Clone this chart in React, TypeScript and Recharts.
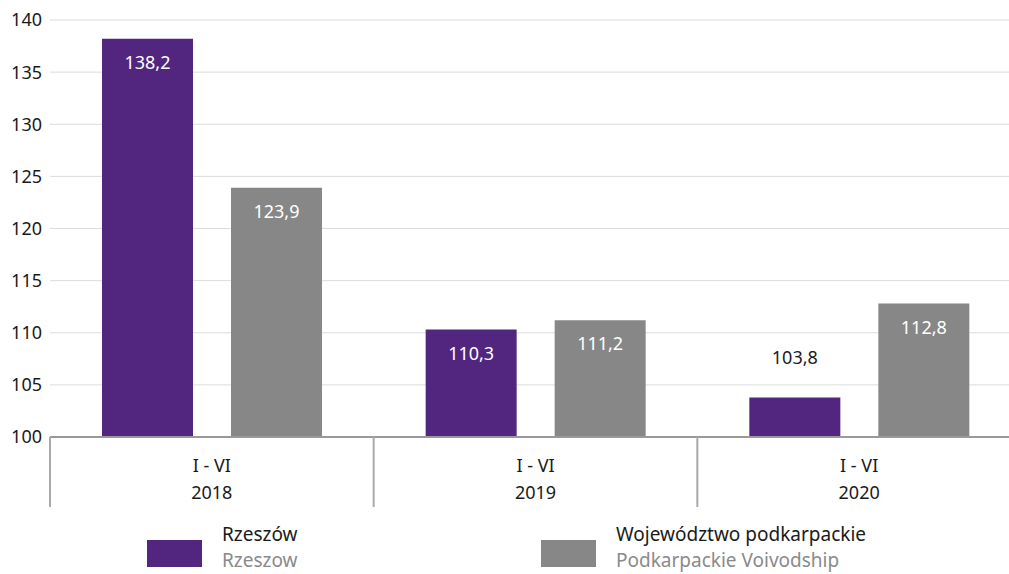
import React from "react";
import { BarChart, Bar, XAxis, YAxis, CartesianGrid, LabelList } from "recharts";

const years = ["2018", "2019", "2020"];
const period = "I - VI";
const rzeszow = [138.2, 110.3, 103.8];
const podkarpackie = [123.9, 111.2, 112.8];
const yTicks = [100, 105, 110, 115, 120, 125, 130, 135, 140];

const series = [
  { key: "rzeszow", name: "Rzeszów", nameEn: "Rzeszow", color: "#52267f" },
  { key: "podkarpackie", name: "Województwo podkarpackie", nameEn: "Podkarpackie Voivodship", color: "#878787" },
];

const data = years.map((y, i) => ({
  year: y,
  rzeszow: rzeszow[i],
  podkarpackie: podkarpackie[i],
}));

const FONT = "'Noto Sans', 'Open Sans', sans-serif";
const CHART_W = 1021;
const CHART_H = 574;
const Y_W = 50;

const fmt = (v: number) => v.toFixed(1).replace(".", ",");

const CategoryTick = (props: any) => {
  const { x, y, payload } = props;
  const band = (CHART_W - Y_W) / years.length;
  const left = x - band / 2;
  return (
    <g>
      <line x1={left} y1={y} x2={left} y2={y + 70} stroke="#a9a9a9" strokeWidth={2} />
      <text x={x} y={y + 35} textAnchor="middle" fontSize={18} fill="#1a1a1a" fontFamily={FONT}>
        {period}
      </text>
      <text x={x} y={y + 62} textAnchor="middle" fontSize={18} fill="#1a1a1a" fontFamily={FONT}>
        {payload.value}
      </text>
    </g>
  );
};

const BarLabel = (props: any) => {
  const { x, y, width, height, value } = props;
  const inside = height > 50;
  return (
    <text
      x={x + width / 2}
      y={inside ? y + 30 : y - 33}
      textAnchor="middle"
      fontSize={18}
      fill={inside ? "#ffffff" : "#1a1a1a"}
      fontFamily={FONT}
    >
      {fmt(value)}
    </text>
  );
};

export default function App() {
  return (
    <div
      style={{
        position: "absolute",
        left: 0,
        top: 0,
        width: 1009,
        height: 574,
        overflow: "hidden",
        background: "#fff",
        fontFamily: FONT,
      }}
    >
      <BarChart
        width={CHART_W}
        height={CHART_H}
        data={data}
        margin={{ top: 20, right: 0, bottom: 67, left: 0 }}
        barGap={38}
        barSize={91}
      >
        <CartesianGrid vertical={false} stroke="#dcdcdc" strokeWidth={1} />
        <XAxis
          dataKey="year"
          height={70}
          tickLine={false}
          tickSize={0}
          tickMargin={0}
          axisLine={{ stroke: "#999999", strokeWidth: 2 }}
          tick={<CategoryTick />}
          interval={0}
        />
        <YAxis
          width={Y_W}
          domain={[100, 140]}
          ticks={yTicks}
          axisLine={false}
          tickLine={false}
          tick={{ fontSize: 18, fill: "#1a1a1a", fontFamily: FONT }}
          allowDataOverflow
        />
        {series.map((s) => (
          <Bar key={s.key} dataKey={s.key} name={s.name} fill={s.color} isAnimationActive={false}>
            <LabelList dataKey={s.key} content={<BarLabel />} />
          </Bar>
        ))}
      </BarChart>
      {series.map((s, i) => (
        <div
          key={s.key}
          style={{
            position: "absolute",
            left: i === 0 ? 147 : 541,
            top: 521,
            width: 420,
            height: 52,
          }}
        >
          <div style={{ position: "absolute", left: 0, top: 19, width: 55, height: 27, background: s.color }} />
          <div style={{ position: "absolute", left: 75, top: 0, fontSize: 19, lineHeight: "26px", whiteSpace: "nowrap" }}>
            <div style={{ color: "#1a1a1a" }}>{s.name}</div>
            <div style={{ color: "#8a8a8a" }}>{s.nameEn}</div>
          </div>
        </div>
      ))}
    </div>
  );
}
